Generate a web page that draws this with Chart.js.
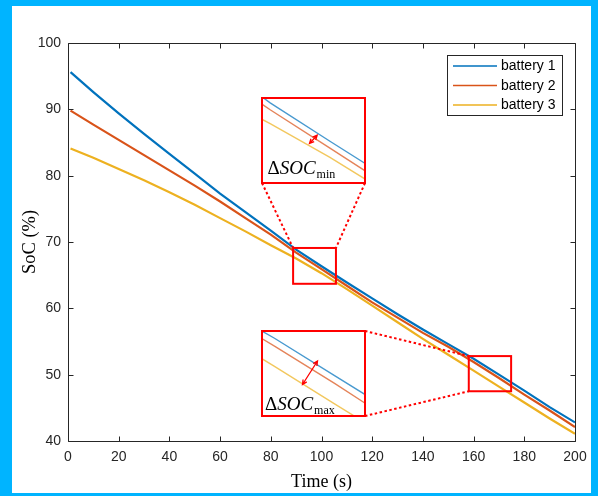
<!DOCTYPE html>
<html><head><meta charset="utf-8">
<script src="https://cdn.jsdelivr.net/npm/chart.js@4.4.1/dist/chart.umd.min.js"></script>
<style>
html,body{margin:0;padding:0;}
body{width:598px;height:496px;background:#00B4FF;position:relative;overflow:hidden;}
#frame{position:absolute;left:12px;top:6px;width:579px;height:487px;background:#fff;}
#main{position:absolute;left:0;top:0;}
.inset{position:absolute;box-sizing:border-box;border:2px solid #ff0000;background:#fff;}
.inset canvas{display:block;}
</style></head><body>
<div id="frame"></div>
<canvas id="main" width="598" height="496"></canvas>
<div class="inset" style="left:261px;top:97px;width:105px;height:87px;"><canvas id="in1" width="101" height="83"></canvas></div>
<div class="inset" style="left:261px;top:330px;width:105px;height:87px;"><canvas id="in2" width="101" height="83"></canvas></div>
<script>
// ---------------- data ----------------
const times    = [1, 10, 20, 30, 40, 50, 60, 70, 80, 90, 100, 110, 120, 130, 140, 150, 160, 170, 180, 190, 200];
const battery1 = [95.6, 92.6, 89.4, 86.3, 83.3, 80.3, 77.3, 74.5, 71.7, 68.85, 66.35, 63.9, 61.5, 59.1, 56.8, 54.6, 52.4, 50.0, 47.6, 45.1, 42.8];
const battery2 = [89.8, 87.7, 85.4, 83.1, 80.8, 78.5, 76.1, 73.6, 71.1, 68.4, 65.9, 63.4, 60.9, 58.6, 56.3, 54.2, 51.9, 49.5, 47.0, 44.6, 42.1];
const battery3 = [84.1, 82.7, 81.0, 79.3, 77.5, 75.6, 73.6, 71.6, 69.5, 67.5, 65.3, 62.9, 60.4, 57.9, 55.4, 53.0, 50.6, 48.2, 45.8, 43.4, 41.1];
const xTicks = [0, 20, 40, 60, 80, 100, 120, 140, 160, 180, 200];
const yTicks = [40, 50, 60, 70, 80, 90, 100];
const seriesNames  = ['battery 1', 'battery 2', 'battery 3'];
const seriesValues = [battery1, battery2, battery3];
const seriesColors = ['#0072BD', '#D95319', '#EDB120'];
const insetColors  = ['rgba(0,114,189,0.72)', 'rgba(217,83,25,0.72)', 'rgba(237,177,32,0.72)'];
const xTitle = 'Time (s)';
const yTitle = 'SoC (%)';
// zoom windows (time range, SoC range)
const zoomMinT = [88.8, 105.7], zoomMinV = [63.7, 69.1];
const zoomMaxT = [158.1, 174.8], zoomMaxV = [47.5, 52.8];

// ---------------- layout (page pixels) ----------------
const INSET1 = {l: 262, t: 98, r: 365, b: 183};
const INSET2 = {l: 262, t: 331, r: 365, b: 416};

function pts(vals){ return times.map((t,i)=>({x:t, y:vals[i]})); }

const axisColor = '#262626';

const decor = {
  id: 'decor',
  afterDraw(chart){
    const {ctx, chartArea:a, scales:{x, y}} = chart;
    ctx.save();
    // axes box
    ctx.strokeStyle = axisColor; ctx.lineWidth = 1;
    const L = Math.round(a.left)+0.5, R = Math.round(a.right)+0.5, T = Math.round(a.top)+0.5, B = Math.round(a.bottom)+0.5;
    ctx.beginPath();
    ctx.rect(L, T, R-L, B-T);
    xTicks.forEach(v=>{
      const px = Math.round(x.getPixelForValue(v))+0.5;
      ctx.moveTo(px, B); ctx.lineTo(px, B-5);
      ctx.moveTo(px, T); ctx.lineTo(px, T+5);
    });
    yTicks.forEach(v=>{
      const py = Math.round(y.getPixelForValue(v))+0.5;
      ctx.moveTo(L, py); ctx.lineTo(L+5, py);
      ctx.moveTo(R, py); ctx.lineTo(R-5, py);
    });
    ctx.stroke();

    // zoom rectangles
    ctx.strokeStyle = '#ff0000'; ctx.lineWidth = 2;
    const r1 = {l:x.getPixelForValue(zoomMinT[0]), r:x.getPixelForValue(zoomMinT[1]), t:y.getPixelForValue(zoomMinV[1]), b:y.getPixelForValue(zoomMinV[0])};
    const r2 = {l:x.getPixelForValue(zoomMaxT[0]), r:x.getPixelForValue(zoomMaxT[1]), t:y.getPixelForValue(zoomMaxV[1]), b:y.getPixelForValue(zoomMaxV[0])};
    [r1, r2].forEach(r=>{ ctx.strokeRect(r.l, r.t, r.r-r.l, r.b-r.t); });

    // dotted connectors
    ctx.setLineDash([2.5, 2.5]);
    ctx.beginPath();
    ctx.moveTo(INSET1.l, INSET1.b); ctx.lineTo(r1.l, r1.t);
    ctx.moveTo(INSET1.r, INSET1.b); ctx.lineTo(r1.r, r1.t);
    ctx.moveTo(INSET2.r, INSET2.t); ctx.lineTo(r2.l, r2.t);
    ctx.moveTo(INSET2.r, INSET2.b); ctx.lineTo(r2.l, r2.b);
    ctx.stroke();
    ctx.setLineDash([]);

    // legend
    const lg = {l: 447.5, t: 55.5, w: 115, h: 60};
    ctx.fillStyle = '#fff';
    ctx.fillRect(lg.l, lg.t, lg.w, lg.h);
    ctx.strokeStyle = axisColor; ctx.lineWidth = 1;
    ctx.strokeRect(lg.l, lg.t, lg.w, lg.h);
    ctx.font = '14px "Liberation Sans", Arial, sans-serif';
    ctx.textBaseline = 'middle'; ctx.textAlign = 'left';
    seriesNames.forEach((n,i)=>{
      const yy = 66 + i*19.5;
      ctx.strokeStyle = seriesColors[i]; ctx.lineWidth = 1.6;
      ctx.beginPath(); ctx.moveTo(453, yy); ctx.lineTo(497, yy); ctx.stroke();
      ctx.fillStyle = '#000';
      ctx.fillText(n, 501, yy+0.5);
    });
    ctx.restore();
  }
};

new Chart(document.getElementById('main'), {
  type: 'line',
  data: {
    datasets: seriesNames.map((n,i)=>({
      label: n, data: pts(seriesValues[i]), borderColor: seriesColors[i],
      borderWidth: 2.2, pointRadius: 0, tension: 0, fill: false, order: 3-i
    }))
  },
  options: {
    responsive: false, animation: false, events: [],
    layout: {padding: {left: 0, top: 43, right: 23, bottom: 0}},
    plugins: {legend: {display: false}, tooltip: {enabled: false}},
    scales: {
      x: {
        type: 'linear', min: 0, max: 200,
        afterBuildTicks: s => { s.ticks = xTicks.map(v=>({value:v})); },
        afterFit: s => { s.height = 55; },
        grid: {display: false, drawTicks: false},
        border: {display: false},
        ticks: {color: axisColor, padding: 8, maxRotation: 0, font: {family: '"Liberation Sans", Arial, sans-serif', size: 14}},
        title: {display: true, text: xTitle, color: '#000', padding: {top: 0, bottom: 3},
                font: {family: '"Liberation Serif", "Times New Roman", serif', size: 18}}
      },
      y: {
        type: 'linear', min: 40, max: 100,
        afterBuildTicks: s => { s.ticks = yTicks.map(v=>({value:v})); },
        afterFit: s => { s.width = 68; },
        grid: {display: false, drawTicks: false},
        border: {display: false},
        ticks: {color: axisColor, padding: 7, font: {family: '"Liberation Sans", Arial, sans-serif', size: 14}},
        title: {display: true, text: yTitle, color: '#000', padding: {top: 19, bottom: 0},
                font: {family: '"Liberation Serif", "Times New Roman", serif', size: 18.5}}
      }
    }
  },
  plugins: [decor]
});

function drawArrow(ctx, x1, y1, x2, y2){
  const ang = Math.atan2(y2-y1, x2-x1), h = 5, sp = 0.45;
  ctx.beginPath();
  ctx.moveTo(x1, y1); ctx.lineTo(x2, y2);
  ctx.moveTo(x2 - h*Math.cos(ang-sp), y2 - h*Math.sin(ang-sp)); ctx.lineTo(x2, y2);
  ctx.lineTo(x2 - h*Math.cos(ang+sp), y2 - h*Math.sin(ang+sp));
  ctx.moveTo(x1 + h*Math.cos(ang-sp), y1 + h*Math.sin(ang-sp)); ctx.lineTo(x1, y1);
  ctx.lineTo(x1 + h*Math.cos(ang+sp), y1 + h*Math.sin(ang+sp));
  ctx.stroke();
}

function makeInset(id, tr, vr, arrow, label, lx, ly){
  const deco = {
    id: 'insetDeco',
    afterDraw(chart){
      const ctx = chart.ctx;
      ctx.save();
      ctx.strokeStyle = '#ff0000'; ctx.lineWidth = 1.3;
      drawArrow(ctx, arrow[0], arrow[1], arrow[2], arrow[3]);
      ctx.fillStyle = '#000';
      ctx.textBaseline = 'alphabetic'; ctx.textAlign = 'left';
      ctx.font = '19px "Liberation Serif", "Times New Roman", serif';
      ctx.fillText('\u0394', lx, ly);
      let w = ctx.measureText('\u0394').width;
      ctx.font = 'italic 19px "Liberation Serif", "Times New Roman", serif';
      ctx.fillText('SOC', lx + w, ly);
      w += ctx.measureText('SOC').width;
      ctx.font = '12px "Liberation Serif", "Times New Roman", serif';
      ctx.fillText(label, lx + w + 1, ly + 4.5);
      ctx.restore();
    }
  };
  new Chart(document.getElementById(id), {
    type: 'line',
    data: {
      datasets: seriesNames.map((n,i)=>({
        label: n, data: pts(seriesValues[i]), borderColor: insetColors[i],
        borderWidth: 1.4, pointRadius: 0, tension: 0, fill: false
      }))
    },
    options: {
      responsive: false, animation: false, events: [],
      layout: {padding: 0},
      plugins: {legend: {display: false}, tooltip: {enabled: false}},
      scales: {
        x: {type: 'linear', display: false, min: tr[0], max: tr[1]},
        y: {type: 'linear', display: false, min: vr[0], max: vr[1]}
      }
    },
    plugins: [deco]
  });
}

makeInset('in1', zoomMinT, zoomMinV, [46.5, 44.5, 54.2, 36.2], 'min', 4.5, 74.5);
makeInset('in2', zoomMaxT, zoomMaxV, [39.5, 52.5, 54.5, 29], 'max', 2, 77.5);
</script>
</body></html>
